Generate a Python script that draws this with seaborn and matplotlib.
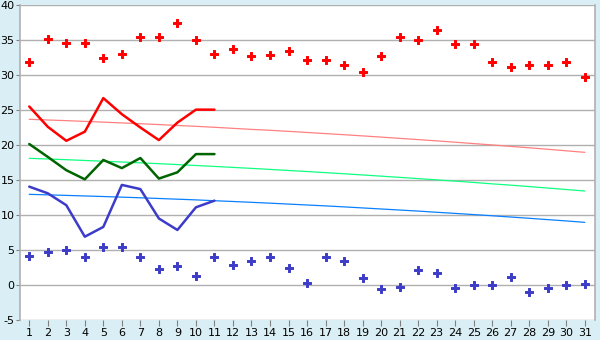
import matplotlib
matplotlib.use("Agg")
import matplotlib.pyplot as plt
import seaborn as sns
import pandas as pd
import numpy as np

days = list(range(1, 32))

record_max = [31.8, 35.2, 34.6, 34.6, 32.4, 32.95, 35.4, 35.5, 37.4, 35.0,
              32.95, 33.7, 32.7, 32.8, 33.4, 32.1, 32.1, 31.5, 30.4, 32.7,
              35.4, 35.0, 36.4, 34.5, 34.5, 31.8, 31.1, 31.4, 31.4, 31.8, 29.7]
record_min = [4.2, 4.7, 4.95, 3.95, 5.4, 5.5, 3.95, 2.24, 2.67, 1.24,
              3.95, 2.8, 3.5, 3.95, 2.38, 0.24, 3.95, 3.43, 0.95, -0.62,
              -0.33, 2.1, 1.67, -0.48, 0.0, 0.0, 1.1, -1.05, -0.48, 0.0, 0.1]

obs_days = list(range(1, 12))
obs_max = [25.5, 22.6, 20.6, 21.9, 26.7, 24.4, 22.5, 20.7, 23.2, 25.05, 25.05]
obs_mean = [20.14, 18.3, 16.4, 15.1, 17.86, 16.7, 18.14, 15.2, 16.1, 18.7, 18.7]
obs_min = [14.05, 13.1, 11.4, 6.9, 8.3, 14.3, 13.7, 9.5, 7.86, 11.1, 12.05]

normal_max = [23.67, 23.57, 23.48, 23.37, 23.27, 23.15, 23.04, 22.92, 22.79, 22.67,
              22.53, 22.38, 22.23, 22.10, 21.95, 21.79, 21.63, 21.47, 21.30, 21.13,
              20.95, 20.77, 20.59, 20.40, 20.20, 20.01, 19.80, 19.60, 19.39, 19.17, 18.95]
normal_mean = [18.10, 18.00, 17.90, 17.79, 17.68, 17.57, 17.45, 17.33, 17.20, 17.07,
               16.94, 16.80, 16.66, 16.51, 16.36, 16.21, 16.05, 15.89, 15.72, 15.55,
               15.38, 15.20, 15.02, 14.84, 14.65, 14.45, 14.26, 14.06, 13.85, 13.64, 13.43]
normal_min = [12.95, 12.88, 12.80, 12.72, 12.64, 12.55, 12.46, 12.36, 12.26, 12.16,
              12.04, 11.93, 11.81, 11.69, 11.56, 11.43, 11.30, 11.16, 11.01, 10.86,
              10.71, 10.56, 10.39, 10.23, 10.06, 9.89, 9.71, 9.53, 9.34, 9.15, 8.95]

y_ticks = [-5, 0, 5, 10, 15, 20, 25, 30, 35, 40]

sns.set_theme(style="white")
plt.rcParams['font.family'] = ['DejaVu Sans']

bg = "#d9eff5"
grid_c = "#b0b0b0"

fig = plt.figure(figsize=(6, 3.4), dpi=100, facecolor=bg)
ax = fig.add_axes([20 / 600, 20 / 340, 575 / 600, 315 / 340])
ax.set_facecolor("white")

for yv in y_ticks:
    ax.axhline(yv, color=grid_c, lw=1.0, zorder=0)

df_norm = pd.DataFrame({"day": days, "nmax": normal_max, "nmean": normal_mean, "nmin": normal_min,
                        "rmax": record_max, "rmin": record_min})
df_obs = pd.DataFrame({"day": obs_days, "omax": obs_max, "omean": obs_mean, "omin": obs_min})

sns.lineplot(data=df_norm, x="day", y="nmax", ax=ax, color="#ff8080", lw=0.9, zorder=2)
sns.lineplot(data=df_norm, x="day", y="nmean", ax=ax, color="#10ff80", lw=0.9, zorder=2)
sns.lineplot(data=df_norm, x="day", y="nmin", ax=ax, color="#0a80ff", lw=0.9, zorder=2)

sns.lineplot(data=df_obs, x="day", y="omax", ax=ax, color="#ff0000", lw=1.8, zorder=3)
sns.lineplot(data=df_obs, x="day", y="omean", ax=ax, color="#006400", lw=1.8, zorder=3)
sns.lineplot(data=df_obs, x="day", y="omin", ax=ax, color="#3c3cc8", lw=1.8, zorder=3)

sns.scatterplot(data=df_norm, x="day", y="rmax", ax=ax, color="#ff0000", marker="P",
                s=26, linewidth=0.7, edgecolor="#ff0000", zorder=4)
sns.scatterplot(data=df_norm, x="day", y="rmin", ax=ax, color="#3c3cc8", marker="P",
                s=26, linewidth=0.7, edgecolor="#3c3cc8", zorder=4)

ax.set_xlim(0.5, 31.55)
ax.set_ylim(-5, 40)
ax.set_xticks(days)
ax.set_xticklabels([str(d) for d in days])
ax.set_yticks(y_ticks)
ax.set_yticklabels([str(v) for v in y_ticks])
ax.set_xlabel("")
ax.set_ylabel("")

for side in ["top", "bottom"]:
    ax.spines[side].set_visible(False)
for side in ["left", "right"]:
    ax.spines[side].set_visible(True)
    ax.spines[side].set_color(grid_c)
    ax.spines[side].set_linewidth(1.2)

ax.tick_params(axis="x", bottom=True, length=4, width=0.8, color="#808080",
               labelsize=8, pad=2, labelcolor="#000000")
ax.tick_params(axis="y", left=True, length=3, width=0.8, color="#808080",
               labelsize=8, pad=1, labelcolor="#000000")

fig.savefig("out.png", dpi=100, facecolor=bg)
